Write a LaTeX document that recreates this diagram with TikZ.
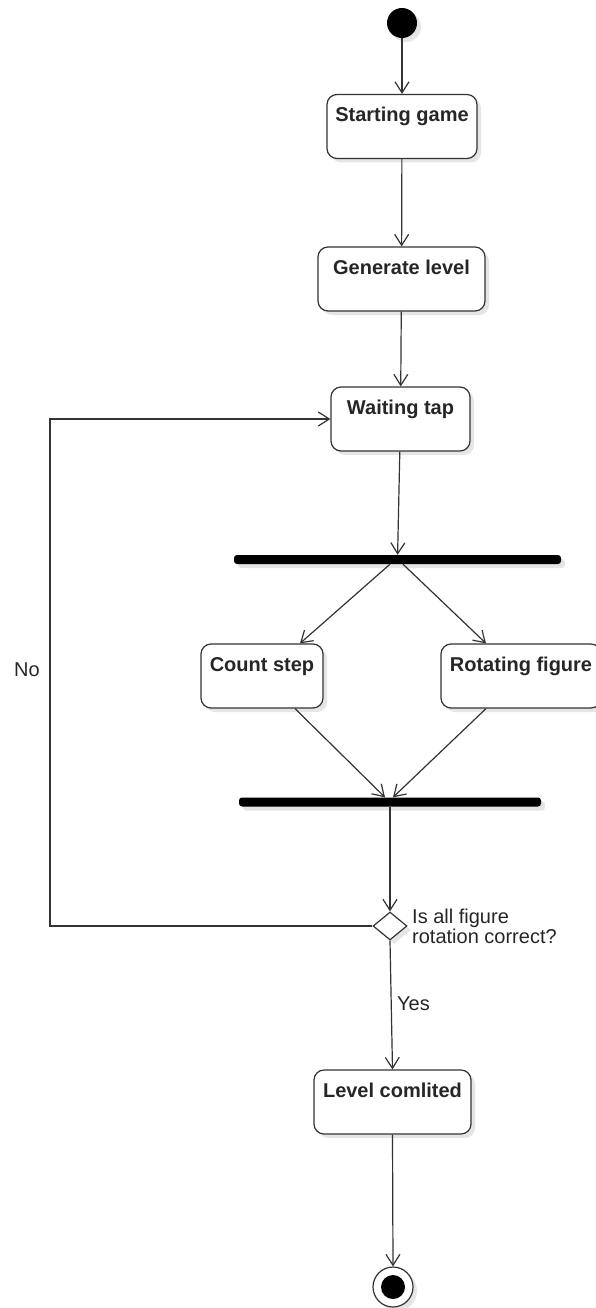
\documentclass[tikz,border=0pt]{standalone}
\usepackage{fontspec}
\setmainfont{Liberation Sans}
\usetikzlibrary{arrows.meta,shapes.geometric,shadows}
\begin{document}
\begin{tikzpicture}[x=1pt,y=-1pt]
\tikzset{
  flow/.style={draw=black!80, line width=1.2pt, -{Straight Barb[length=11pt,width=14pt]}},
  shade/.style={drop shadow={shadow xshift=4pt, shadow yshift=-4pt, fill=black!10, opacity=1}},
  action/.style={draw=black!80, line width=1.2pt, fill=white, rounded corners=10pt, shade,
    font=\fontsize{20}{22}\selectfont\bfseries, text=black!85,
    text height=14pt, text depth=24pt, inner ysep=13pt, inner xsep=0pt},
  bar/.style={fill=black, rounded corners=3pt, minimum height=9pt, inner sep=0pt, shade},
  lbl/.style={font=\fontsize{20}{22}\selectfont, text=black!85, inner sep=0pt, anchor=base west},
}
\useasboundingbox (0,0) rectangle (595,1308);

% initial state
\node[circle, fill=black, minimum size=30pt, inner sep=0pt, shade] (init) at (402,23) {};

% actions
\node[action, minimum width=150pt] (start) at (402,126.5) {Starting game};
\node[action, minimum width=167pt] (gen)   at (401.5,279) {Generate level};
\node[action, minimum width=139pt] (wait)  at (400.5,419) {Waiting tap};
\node[action, minimum width=122pt] (count) at (262,676) {Count step};
\node[action, minimum width=160pt] (rot)   at (521,676) {Rotating figure};
\node[action, minimum width=157pt] (level) at (392.5,1102) {Level comlited};

% fork and join bars
\node[bar, minimum width=327pt] (fork) at (397.5,559.5) {};
\node[bar, minimum width=302pt] (join) at (390,802) {};

% decision
\node[diamond, draw=black!80, line width=1.2pt, fill=white, minimum width=34pt,
      minimum height=28pt, inner sep=0pt, shade] (check) at (390,926) {};

% final state
\node[circle, draw=black!80, line width=1.2pt, fill=white, minimum size=40pt,
      inner sep=0pt, shade] (final) at (393,1287) {};
\node[circle, fill=black, minimum size=24pt, inner sep=0pt] (finaldot) at (final) {};

\coordinate (loopx) at (50,0);

% transitions
\draw[flow] (init) -- (start);
\draw[flow] (start) -- (gen);
\draw[flow] (gen) -- (wait);
\draw[flow] (wait) -- (fork);
\draw[flow] ([xshift=-7.5pt]fork.south) -- ([xshift=38pt]count.north);
\draw[flow] ([xshift=5.5pt]fork.south) -- ([xshift=-35pt]rot.north);
\draw[flow] ([xshift=33pt]count.south) -- ([xshift=-5pt]join.north);
\draw[flow] ([xshift=-35pt]rot.south) -- ([xshift=3pt]join.north);
\draw[flow] (join.south) -- (check.north);
\draw[flow] (check.west) -- (check.west -| loopx) |- (wait.west);
\draw[flow] (check.south) -- (level.north);
\draw[flow] (level.south) -- (final.north);

% labels
\node[lbl] (no)  at (14,676) {No};
\node[lbl] (yes) at (397,1010) {Yes};
\node[lbl] (q1)  at (412,923) {Is all figure};
\node[lbl] (q2)  at (412,943) {rotation correct?};
\end{tikzpicture}
\end{document}
